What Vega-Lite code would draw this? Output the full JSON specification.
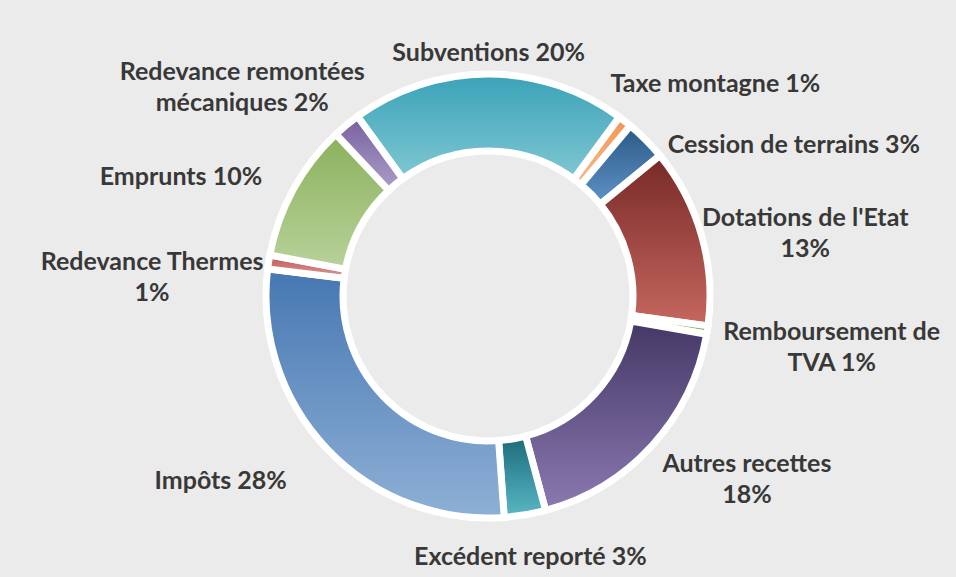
{
  "$schema": "https://vega.github.io/schema/vega-lite/v6.json",
  "width": 936,
  "height": 562,
  "autosize": {"type": "none"},
  "padding": {"left": 20, "top": 15, "right": 0, "bottom": 0},
  "background": "#ebebeb",
  "config": {"view": {"stroke": null}},
  "data": {
    "values": [
      {"rang": 1, "poste": "Subventions", "valeur": 20, "etiquette": "Subventions  20%"},
      {"rang": 2, "poste": "Taxe montagne", "valeur": 1, "etiquette": "Taxe montagne 1%"},
      {"rang": 3, "poste": "Cession de terrains", "valeur": 3, "etiquette": "Cession de terrains 3%"},
      {"rang": 4, "poste": "Dotations de l'Etat", "valeur": 13, "etiquette": "Dotations de l'Etat\n13%"},
      {"rang": 5, "poste": "Remboursement de TVA", "valeur": 0.6, "etiquette": "Remboursement de\nTVA  1%"},
      {"rang": 6, "poste": "Autres recettes", "valeur": 18, "etiquette": "Autres recettes\n18%"},
      {"rang": 7, "poste": "Excédent reporté", "valeur": 3, "etiquette": "Excédent reporté 3%"},
      {"rang": 8, "poste": "Impôts", "valeur": 28, "etiquette": "Impôts 28%"},
      {"rang": 9, "poste": "Redevance Thermes", "valeur": 1, "etiquette": "Redevance Thermes\n1%"},
      {"rang": 10, "poste": "Emprunts", "valeur": 10, "etiquette": "Emprunts 10%"},
      {"rang": 11, "poste": "Redevance remontées mécaniques", "valeur": 2, "etiquette": "Redevance remontées\nmécaniques 2%"}
    ]
  },
  "layer": [
    {
      "mark": {"type": "arc", "outerRadius": 222, "innerRadius": 145, "stroke": "white", "strokeWidth": 7},
      "encoding": {
        "theta": {"field": "valeur", "type": "quantitative", "stack": true, "scale": {"range": [-0.62832, 5.65487]}},
        "order": {"field": "rang", "type": "quantitative"},
        "detail": {"field": "poste", "type": "nominal"},
        "color": {
          "condition": [
            {"test": "datum.rang == 1", "value": {"gradient": "linear", "x1": 0, "y1": 0, "x2": 0, "y2": 1, "stops": [{"offset": 0, "color": "#3aa2b8"}, {"offset": 1, "color": "#80c7d2"}]}},
            {"test": "datum.rang == 2", "value": {"gradient": "linear", "x1": 0, "y1": 0, "x2": 0, "y2": 1, "stops": [{"offset": 0, "color": "#ef9550"}, {"offset": 1, "color": "#f7bd8f"}]}},
            {"test": "datum.rang == 3", "value": {"gradient": "linear", "x1": 0, "y1": 0, "x2": 0, "y2": 1, "stops": [{"offset": 0, "color": "#2a5985"}, {"offset": 1, "color": "#5f92c7"}]}},
            {"test": "datum.rang == 4", "value": {"gradient": "linear", "x1": 0, "y1": 0, "x2": 0, "y2": 1, "stops": [{"offset": 0, "color": "#772927"}, {"offset": 1, "color": "#c6675f"}]}},
            {"test": "datum.rang == 5", "value": {"gradient": "linear", "x1": 0, "y1": 0, "x2": 0, "y2": 1, "stops": [{"offset": 0, "color": "#72a03f"}, {"offset": 1, "color": "#9bbb59"}]}},
            {"test": "datum.rang == 6", "value": {"gradient": "linear", "x1": 0, "y1": 0, "x2": 0, "y2": 1, "stops": [{"offset": 0, "color": "#443866"}, {"offset": 1, "color": "#8b79b0"}]}},
            {"test": "datum.rang == 7", "value": {"gradient": "linear", "x1": 0, "y1": 0, "x2": 0, "y2": 1, "stops": [{"offset": 0, "color": "#1b6b7a"}, {"offset": 1, "color": "#5ab8c5"}]}},
            {"test": "datum.rang == 8", "value": {"gradient": "linear", "x1": 0, "y1": 0, "x2": 0, "y2": 1, "stops": [{"offset": 0, "color": "#4677b2"}, {"offset": 1, "color": "#8eb0d5"}]}},
            {"test": "datum.rang == 9", "value": {"gradient": "linear", "x1": 0, "y1": 0, "x2": 0, "y2": 1, "stops": [{"offset": 0, "color": "#bd5553"}, {"offset": 1, "color": "#dc9b98"}]}},
            {"test": "datum.rang == 10", "value": {"gradient": "linear", "x1": 0, "y1": 0, "x2": 0, "y2": 1, "stops": [{"offset": 0, "color": "#8ab15c"}, {"offset": 1, "color": "#b8d29a"}]}},
            {"test": "datum.rang == 11", "value": {"gradient": "linear", "x1": 0, "y1": 0, "x2": 0, "y2": 1, "stops": [{"offset": 0, "color": "#7760a0"}, {"offset": 1, "color": "#ab9ec8"}]}}
          ],
          "value": "#999999"
        }
      }
    },
    {
      "mark": {"type": "text", "radius": 254, "dy": 11, "align": "center", "baseline": "middle", "font": "Lato", "fontSize": 25, "fontWeight": "bold", "color": "#383838", "lineBreak": "\n", "lineHeight": 31},
      "encoding": {
        "theta": {"field": "valeur", "type": "quantitative", "stack": true},
        "order": {"field": "rang", "type": "quantitative"},
        "detail": {"field": "poste", "type": "nominal"},
        "text": {"condition": {"test": "indexof([1, 7], datum.rang) >= 0", "field": "etiquette", "type": "nominal"}, "value": ""}
      }
    },
    {
      "mark": {"type": "text", "radius": 260, "dx": 67, "dy": -7, "align": "center", "baseline": "middle", "font": "Lato", "fontSize": 25, "fontWeight": "bold", "color": "#383838", "lineBreak": "\n", "lineHeight": 31},
      "encoding": {
        "theta": {"field": "valeur", "type": "quantitative", "stack": true},
        "order": {"field": "rang", "type": "quantitative"},
        "detail": {"field": "poste", "type": "nominal"},
        "text": {"condition": {"test": "indexof([2, 4, 6], datum.rang) >= 0", "field": "etiquette", "type": "nominal"}, "value": ""}
      }
    },
    {
      "mark": {"type": "text", "radius": 280, "dx": 67, "dy": -7, "align": "center", "baseline": "middle", "font": "Lato", "fontSize": 25, "fontWeight": "bold", "color": "#383838", "lineBreak": "\n", "lineHeight": 31},
      "encoding": {
        "theta": {"field": "valeur", "type": "quantitative", "stack": true},
        "order": {"field": "rang", "type": "quantitative"},
        "detail": {"field": "poste", "type": "nominal"},
        "text": {"condition": {"test": "datum.rang == 5", "field": "etiquette", "type": "nominal"}, "value": ""}
      }
    },
    {
      "mark": {"type": "text", "radius": 260, "dx": 121, "dy": 32, "align": "center", "baseline": "middle", "font": "Lato", "fontSize": 25, "fontWeight": "bold", "color": "#383838", "lineBreak": "\n", "lineHeight": 31},
      "encoding": {
        "theta": {"field": "valeur", "type": "quantitative", "stack": true},
        "order": {"field": "rang", "type": "quantitative"},
        "detail": {"field": "poste", "type": "nominal"},
        "text": {"condition": {"test": "datum.rang == 3", "field": "etiquette", "type": "nominal"}, "value": ""}
      }
    },
    {
      "mark": {"type": "text", "radius": 260, "dx": -79, "dy": 6, "align": "center", "baseline": "middle", "font": "Lato", "fontSize": 25, "fontWeight": "bold", "color": "#383838", "lineBreak": "\n", "lineHeight": 31},
      "encoding": {
        "theta": {"field": "valeur", "type": "quantitative", "stack": true},
        "order": {"field": "rang", "type": "quantitative"},
        "detail": {"field": "poste", "type": "nominal"},
        "text": {"condition": {"test": "indexof([8, 9, 10], datum.rang) >= 0", "field": "etiquette", "type": "nominal"}, "value": ""}
      }
    },
    {
      "mark": {"type": "text", "radius": 260, "dx": -80, "dy": -24, "align": "center", "baseline": "middle", "font": "Lato", "fontSize": 25, "fontWeight": "bold", "color": "#383838", "lineBreak": "\n", "lineHeight": 31},
      "encoding": {
        "theta": {"field": "valeur", "type": "quantitative", "stack": true},
        "order": {"field": "rang", "type": "quantitative"},
        "detail": {"field": "poste", "type": "nominal"},
        "text": {"condition": {"test": "datum.rang == 11", "field": "etiquette", "type": "nominal"}, "value": ""}
      }
    }
  ]
}
